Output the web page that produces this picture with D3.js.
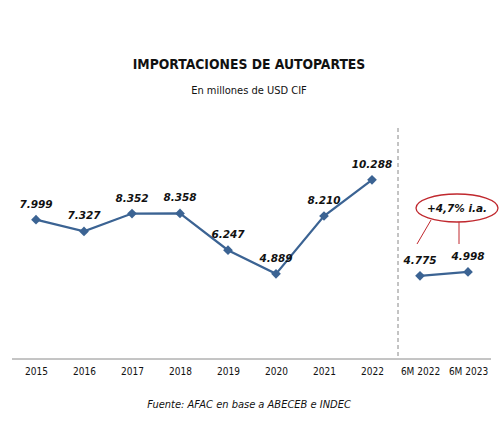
<!DOCTYPE html>
<html><head><meta charset="utf-8">
<script src="https://cdn.jsdelivr.net/npm/d3@7"></script>
<style>body{margin:0;background:#fff;}svg{display:block;}</style>
</head><body>
<svg id="c" width="500" height="432"></svg>
<script>
const categories = ["2015","2016","2017","2018","2019","2020","2021","2022","6M 2022","6M 2023"];
const annualYears = ["2015","2016","2017","2018","2019","2020","2021","2022"];
const annualValues = [7999,7327,8352,8358,6247,4889,8210,10288];
const halfYears = ["6M 2022","6M 2023"];
const halfValues = [4775,4998];
const variationLabel = "+4,7% i.a.";

const svg = d3.select("#c");
const fmt = v => d3.format(",")(v).replace(/,/g, ".");
const x = d3.scalePoint().domain(categories).range([36, 468]);
const y = d3.scaleLinear().domain([0, 12000]).range([359, 150]);
const color = "#3b6393";

svg.append("text").attr("x", 249).attr("y", 69).attr("text-anchor", "middle")
  .attr("font-family", "DejaVu Sans Condensed, DejaVu Sans").attr("font-weight", "bold")
  .attr("font-size", 13.8).attr("fill", "#111").text("IMPORTACIONES DE AUTOPARTES");
svg.append("text").attr("x", 249).attr("y", 94).attr("text-anchor", "middle")
  .attr("font-family", "DejaVu Sans Condensed, DejaVu Sans")
  .attr("font-size", 11).attr("fill", "#111").text("En millones de USD CIF");

// axis
const axis = svg.append("g").attr("transform", "translate(0,359)")
  .call(d3.axisBottom(x).tickSize(0).tickPadding(9));
axis.select(".domain").attr("d", "M12,0H491").attr("stroke", "#8a8a8a");
axis.selectAll("text").attr("font-family", "DejaVu Sans Condensed, DejaVu Sans")
  .attr("font-size", 10).attr("fill", "#111");

// separator
const sepX = (x("2022") + x("6M 2022")) / 2 + 2;
svg.append("line").attr("x1", sepX).attr("x2", sepX).attr("y1", 128).attr("y2", 359)
  .attr("stroke", "#888").attr("stroke-dasharray", "4,3").attr("stroke-width", 1);

const line = d3.line().x(d => x(d[0])).y(d => y(d[1]));
const annual = annualYears.map((c, i) => [c, annualValues[i]]);
const half = halfYears.map((c, i) => [c, halfValues[i]]);
const diamond = d3.symbol().type(d3.symbolDiamond2).size(60);

[annual, half].forEach(series => {
  svg.append("path").datum(series).attr("d", line).attr("fill", "none")
    .attr("stroke", color).attr("stroke-width", 2.2);
  svg.selectAll(null).data(series).enter().append("path")
    .attr("d", diamond).attr("transform", d => `translate(${x(d[0])},${y(d[1])})`)
    .attr("fill", color);
  svg.selectAll(null).data(series).enter().append("text")
    .attr("x", d => x(d[0]))
    .attr("y", d => y(d[1]) - 12)
    .attr("text-anchor", "middle")
    .attr("font-family", "DejaVu Sans").attr("font-weight", "bold").attr("font-style", "italic")
    .attr("font-size", 10.5).attr("fill", "#111").text(d => fmt(d[1]));
});

// annotation
const ex = 457, ey = 208;
svg.append("line").attr("x1", 431).attr("y1", 220).attr("x2", 417).attr("y2", 244)
  .attr("stroke", "#c0282e").attr("stroke-width", 1);
svg.append("line").attr("x1", 459).attr("y1", 222).attr("x2", 459).attr("y2", 244)
  .attr("stroke", "#c0282e").attr("stroke-width", 1);
svg.append("ellipse").attr("cx", ex).attr("cy", ey).attr("rx", 41).attr("ry", 14)
  .attr("fill", "#fff").attr("stroke", "#c0282e").attr("stroke-width", 1.3);
svg.append("text").attr("x", ex).attr("y", ey + 4).attr("text-anchor", "middle")
  .attr("font-family", "DejaVu Sans").attr("font-weight", "bold").attr("font-style", "italic")
  .attr("font-size", 10.5).attr("fill", "#111").text(variationLabel);

svg.append("text").attr("x", 249).attr("y", 408).attr("text-anchor", "middle")
  .attr("font-family", "DejaVu Sans Condensed, DejaVu Sans").attr("font-style", "italic")
  .attr("font-size", 11).attr("fill", "#111").text("Fuente: AFAC en base a ABECEB e INDEC");
</script>
</body></html>
